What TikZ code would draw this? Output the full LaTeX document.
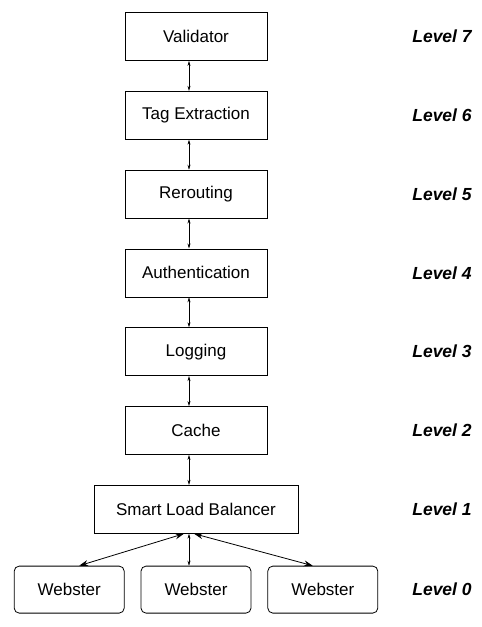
\documentclass[tikz,border=0pt]{standalone}
\usepackage{fontspec}
\setmainfont{Liberation Sans}
\usetikzlibrary{arrows.meta, positioning}

\begin{document}
\begin{tikzpicture}[
  x=1pt, y=1pt,
  node distance=30pt,
  every node/.style={font=\fontsize{17}{20}\selectfont},
  layer/.style={rectangle, draw, line width=0.8pt, minimum width=142pt,
                minimum height=48pt, align=center},
  server/.style={rectangle, draw, rounded corners=5pt, line width=0.8pt,
                 minimum width=110pt, minimum height=47pt},
  level/.style={font=\fontsize{17.5}{20}\selectfont\bfseries\itshape},
  link/.style={{Stealth[length=5pt,width=3pt]}-{Stealth[length=5pt,width=3pt]},
               line width=0.5pt},
  fan/.style={{Stealth[length=9pt,width=6pt,inset=3pt]}-{Stealth[length=9pt,width=6pt,inset=3pt]},
              line width=0.8pt},
]
\useasboundingbox (0,0) rectangle (482,-627);
\node[layer] (val) at (196,-36.5) {Validator};
\node[layer, below=of val]   (tag)   {Tag Extraction};
\node[layer, below=of tag]   (rer)   {Rerouting};
\node[layer, below=of rer]   (auth)  {Authentication};
\node[layer, below=of auth]  (logg)  {Logging};
\node[layer, below=of logg]  (cache) {Cache};
\node[layer, below=of cache, minimum width=204pt] (slb) {Smart Load Balancer};
\node[server, below=32pt of slb] (ws2) {Webster};
\node[server, left=16pt of ws2]  (ws1) {Webster};
\node[server, right=16pt of ws2] (ws3) {Webster};
% level labels
\node[level] (lv7) at ([xshift=246pt]val.center)   {Level 7};
\node[level] (lv6) at ([xshift=246pt]tag.center)   {Level 6};
\node[level] (lv5) at ([xshift=246pt]rer.center)   {Level 5};
\node[level] (lv4) at ([xshift=246pt]auth.center)  {Level 4};
\node[level] (lv3) at ([xshift=246pt]logg.center)  {Level 3};
\node[level] (lv2) at ([xshift=246pt]cache.center) {Level 2};
\node[level] (lv1) at ([xshift=246pt]slb.center)   {Level 1};
\node[level] (lv0) at ([xshift=246pt]ws2.center)   {Level 0};
% links
\draw[link] ([xshift=-7pt]val.south)   -- ([xshift=-7pt]tag.north);
\draw[link] ([xshift=-7pt]tag.south)   -- ([xshift=-7pt]rer.north);
\draw[link] ([xshift=-7pt]rer.south)   -- ([xshift=-7pt]auth.north);
\draw[link] ([xshift=-7pt]auth.south)  -- ([xshift=-7pt]logg.north);
\draw[link] ([xshift=-7pt]logg.south)  -- ([xshift=-7pt]cache.north);
\draw[link] ([xshift=-7pt]cache.south) -- ([xshift=-7pt]slb.north);
\draw[link] ([xshift=-7pt]slb.south)   -- ([xshift=-7pt]ws2.north);
\draw[fan]  ([xshift=-12pt]slb.south)  -- ([xshift=10pt]ws1.north);
\draw[fan]  ([xshift=-2pt]slb.south)   -- ([xshift=-10pt]ws3.north);
\end{tikzpicture}
\end{document}
